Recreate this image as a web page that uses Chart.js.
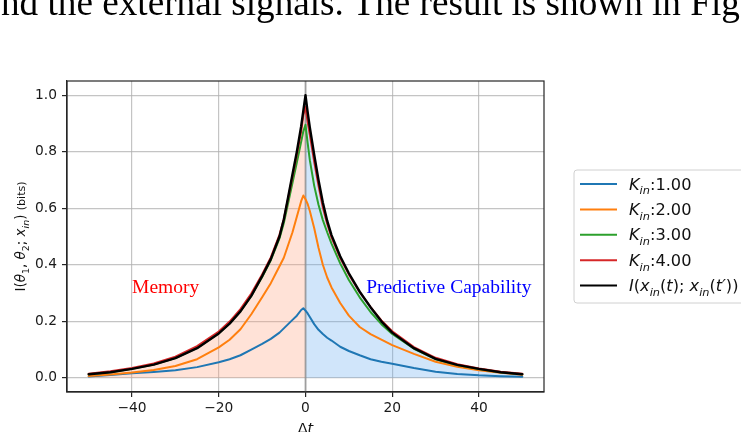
<!DOCTYPE html>
<html>
<head>
<meta charset="utf-8">
<script src="https://cdn.jsdelivr.net/npm/chart.js@4.4.1/dist/chart.umd.min.js"></script>
<style>
  html, body { margin: 0; padding: 0; background: #fff; overflow: hidden; }
  #wrap { position: relative; width: 741px; height: 432px; overflow: hidden; background: #fff; }
  #lead { position: absolute; left: 1px; top: -16px; font: 37.2px/1 "Liberation Serif", "Times New Roman", serif;
          color: #000; white-space: nowrap; }
  canvas { position: absolute; left: 0; top: 0; }
</style>
</head>
<body>
<div id="wrap">
  <canvas id="c" width="741" height="432"></canvas>
  <div id="lead">nd the external signals. The result is shown in Fig</div>
</div>
<script>
// Time lag between the two signals
const deltaT = [-50, -45, -40, -35, -30, -25, -20, -17.5, -15, -12.5, -10, -8, -6, -5, -4, -3, -2, -1, -0.5, 0,
                0.5, 1, 2, 3, 4, 5, 6, 8, 10, 12.5, 15, 17.5, 20, 25, 30, 35, 40, 45, 50];

// Mutual information (bits) for each input coupling K_in
const kin1 = [0.005, 0.01, 0.016, 0.021, 0.027, 0.038, 0.055, 0.066, 0.08, 0.1, 0.12, 0.138, 0.16, 0.175, 0.19, 0.205, 0.22, 0.24, 0.246, 0.238,
              0.228, 0.215, 0.19, 0.17, 0.155, 0.142, 0.132, 0.11, 0.095, 0.08, 0.066, 0.057, 0.05, 0.035, 0.022, 0.014, 0.009, 0.006, 0.004];
const kin2 = [0.007, 0.012, 0.019, 0.028, 0.042, 0.066, 0.108, 0.135, 0.172, 0.225, 0.285, 0.335, 0.395, 0.425, 0.47, 0.515, 0.57, 0.625, 0.645, 0.632,
              0.615, 0.59, 0.53, 0.46, 0.4, 0.355, 0.32, 0.265, 0.22, 0.18, 0.155, 0.135, 0.116, 0.085, 0.057, 0.039, 0.027, 0.018, 0.011];
const kin3 = [0.013, 0.02, 0.032, 0.047, 0.07, 0.106, 0.158, 0.193, 0.236, 0.29, 0.357, 0.416, 0.493, 0.548, 0.618, 0.69, 0.762, 0.835, 0.872, 0.895,
              0.83, 0.77, 0.68, 0.612, 0.558, 0.515, 0.475, 0.405, 0.346, 0.285, 0.233, 0.19, 0.155, 0.103, 0.066, 0.045, 0.031, 0.02, 0.013];
const kin4 = [0.015, 0.023, 0.035, 0.051, 0.075, 0.112, 0.164, 0.199, 0.243, 0.298, 0.366, 0.426, 0.506, 0.562, 0.635, 0.712, 0.79, 0.872, 0.93, 0.958,
              0.905, 0.86, 0.765, 0.68, 0.603, 0.545, 0.497, 0.424, 0.366, 0.303, 0.25, 0.203, 0.165, 0.109, 0.071, 0.048, 0.033, 0.022, 0.015];
// Input autocorrelation information I(x_in(t); x_in(t'))
const autoMI = [0.013, 0.02, 0.032, 0.047, 0.07, 0.105, 0.157, 0.192, 0.235, 0.29, 0.36, 0.42, 0.5, 0.56, 0.64, 0.72, 0.8, 0.89, 0.945, 1.0,
                0.94, 0.886, 0.79, 0.7, 0.62, 0.556, 0.505, 0.43, 0.37, 0.305, 0.25, 0.2, 0.16, 0.105, 0.067, 0.046, 0.032, 0.02, 0.013];

const kinValues = ['1.00', '2.00', '3.00', '4.00'];
const xTicks = [-40, -20, 0, 20, 40];
const yTicks = [0, 0.2, 0.4, 0.6, 0.8, 1.0];
const xRange = [-55, 55];
const yRange = [-0.05, 1.05];

const colors = ['#1f77b4', '#ff7f0e', '#2ca02c', '#d62728', '#000000'];

const pts = ys => deltaT.map((x, i) => ({ x, y: ys[i] }));
const pastPart = pts(autoMI).filter(p => p.x <= 0);
const futurePart = pts(autoMI).filter(p => p.x >= 0);

const lineBase = { pointRadius: 0, borderWidth: 2, tension: 0, fill: false, borderJoinStyle: 'round', borderCapStyle: 'round' };

const datasets = [
  { ...lineBase, data: pastPart, borderWidth: 0, fill: 'origin', backgroundColor: 'rgba(255,160,122,0.3)', order: 10 },
  { ...lineBase, data: futurePart, borderWidth: 0, fill: 'origin', backgroundColor: 'rgba(100,170,240,0.3)', order: 10 },
  { ...lineBase, data: [{ x: 0, y: yRange[0] }, { x: 0, y: yRange[1] }], borderColor: 'rgba(128,128,128,0.55)', borderWidth: 2, order: 9 },
  { ...lineBase, data: pts(kin1), borderColor: colors[0], order: 5 },
  { ...lineBase, data: pts(kin2), borderColor: colors[1], order: 4 },
  { ...lineBase, data: pts(kin3), borderColor: colors[2], order: 3 },
  { ...lineBase, data: pts(kin4), borderColor: colors[3], order: 2 },
  { ...lineBase, data: pts(autoMI), borderColor: colors[4], borderWidth: 2.4, order: 1 }
];

// Mixed italic / subscript text runs
function runFont(s, size) {
  const fs = s.sub ? size * 0.7 : (s.small ? size * 0.82 : size);
  return (s.it ? 'italic ' : '') + fs + 'px "DejaVu Sans"';
}
function richWidth(ctx, segs, size) {
  let w = 0;
  for (const s of segs) { ctx.font = runFont(s, size); w += ctx.measureText(s.t).width; }
  return w;
}
function drawRich(ctx, segs, x, y, size) {
  let cx = x;
  for (const s of segs) {
    ctx.font = runFont(s, size);
    ctx.fillText(s.t, cx, y + (s.sub ? size * 0.3 : 0));
    cx += ctx.measureText(s.t).width;
  }
}

const kinLabel = v => [{ t: 'K', it: 1 }, { t: 'in', it: 1, sub: 1 }, { t: ':' + v }];
const autoLabel = [{ t: 'I', it: 1 }, { t: '(' }, { t: 'x', it: 1 }, { t: 'in', it: 1, sub: 1 }, { t: '(' }, { t: 't', it: 1 },
                   { t: '); ' }, { t: 'x', it: 1 }, { t: 'in', it: 1, sub: 1 }, { t: '(' }, { t: 't\u2032', it: 1 }, { t: '))' }];
const legendLabels = [...kinValues.map(kinLabel), autoLabel];
const yTitle = [{ t: 'I(' }, { t: '\u03b8', it: 1 }, { t: '1', sub: 1 }, { t: ', ' }, { t: '\u03b8', it: 1 }, { t: '2', sub: 1 },
                { t: '; ' }, { t: 'x', it: 1 }, { t: 'in', it: 1, sub: 1 }, { t: ') ' }, { t: '(bits)', small: 1 }];
const xTitle = [{ t: '\u0394' }, { t: 't', it: 1 }];
const notes = [
  { text: 'Memory', x: -40, y: 0.3, color: '#ff0000' },
  { text: 'Predictive Capability', x: 14, y: 0.3, color: '#0000ff' }
];

const overlay = {
  id: 'overlay',
  afterDraw(chart) {
    const { ctx, chartArea: a, scales: { x, y } } = chart;
    ctx.save();
    // axes frame
    ctx.strokeStyle = '#262626';
    ctx.lineWidth = 1.2;
    ctx.strokeRect(a.left, a.top, a.right - a.left, a.bottom - a.top);

    // region annotations
    ctx.textAlign = 'left';
    ctx.textBaseline = 'alphabetic';
    ctx.font = '19.5px "Liberation Serif"';
    for (const n of notes) {
      ctx.fillStyle = n.color;
      ctx.fillText(n.text, x.getPixelForValue(n.x), y.getPixelForValue(n.y));
    }

    // axis titles
    ctx.fillStyle = '#111';
    const xw = richWidth(ctx, xTitle, 14.5);
    drawRich(ctx, xTitle, (a.left + a.right) / 2 - xw / 2, 433, 14.5);
    ctx.save();
    ctx.translate(24.5, (a.top + a.bottom) / 2);
    ctx.rotate(-Math.PI / 2);
    const yw = richWidth(ctx, yTitle, 13.5);
    drawRich(ctx, yTitle, -yw / 2, 0, 13.5);
    ctx.restore();

    // legend
    const lx = 574, ly = 170, lw = 200, lh = 133, r = 3;
    ctx.beginPath();
    ctx.moveTo(lx + r, ly);
    ctx.lineTo(lx + lw - r, ly);
    ctx.arcTo(lx + lw, ly, lx + lw, ly + r, r);
    ctx.lineTo(lx + lw, ly + lh - r);
    ctx.arcTo(lx + lw, ly + lh, lx + lw - r, ly + lh, r);
    ctx.lineTo(lx + r, ly + lh);
    ctx.arcTo(lx, ly + lh, lx, ly + lh - r, r);
    ctx.lineTo(lx, ly + r);
    ctx.arcTo(lx, ly, lx + r, ly, r);
    ctx.closePath();
    ctx.fillStyle = 'rgba(255,255,255,0.85)';
    ctx.fill();
    ctx.strokeStyle = '#d0d0d0';
    ctx.lineWidth = 1;
    ctx.stroke();
    legendLabels.forEach((segs, i) => {
      const cy = 184 + i * 25.4;
      ctx.strokeStyle = colors[i];
      ctx.lineWidth = 2;
      ctx.beginPath();
      ctx.moveTo(580, cy);
      ctx.lineTo(617, cy);
      ctx.stroke();
      ctx.fillStyle = '#111';
      drawRich(ctx, segs, 629, cy + 5.5, 16.2);
    });
    ctx.restore();
  }
};

const gridStyle = { color: 'rgba(176,176,176,0.75)', lineWidth: 1.2, tickLength: 5, tickColor: '#262626', tickWidth: 1.2 };
const tickFont = { family: 'DejaVu Sans', size: 13.8 };

new Chart(document.getElementById('c'), {
  type: 'line',
  data: { datasets },
  options: {
    responsive: false,
    animation: false,
    devicePixelRatio: 1,
    layout: { padding: { left: 0, right: 197, top: 81, bottom: 0 } },
    plugins: { legend: { display: false }, tooltip: { enabled: false } },
    scales: {
      x: {
        type: 'linear', min: xRange[0], max: xRange[1],
        afterBuildTicks: s => { s.ticks = xTicks.map(v => ({ value: v })); },
        afterFit: s => { s.height = 40; },
        ticks: { font: tickFont, color: '#1a1a1a', padding: 3, maxRotation: 0, autoSkip: false,
                 callback: v => (v < 0 ? '\u2212' + Math.abs(v) : String(v)) },
        grid: gridStyle,
        border: { display: true, color: '#262626', width: 1.2 }
      },
      y: {
        type: 'linear', min: yRange[0], max: yRange[1],
        afterBuildTicks: s => { s.ticks = yTicks.map(v => ({ value: v })); },
        afterFit: s => { s.width = 67; },
        ticks: { font: tickFont, color: '#1a1a1a', padding: 5, callback: v => v.toFixed(1) },
        grid: gridStyle,
        border: { display: true, color: '#262626', width: 1.2 }
      }
    }
  },
  plugins: [overlay]
});
</script>
</body>
</html>
